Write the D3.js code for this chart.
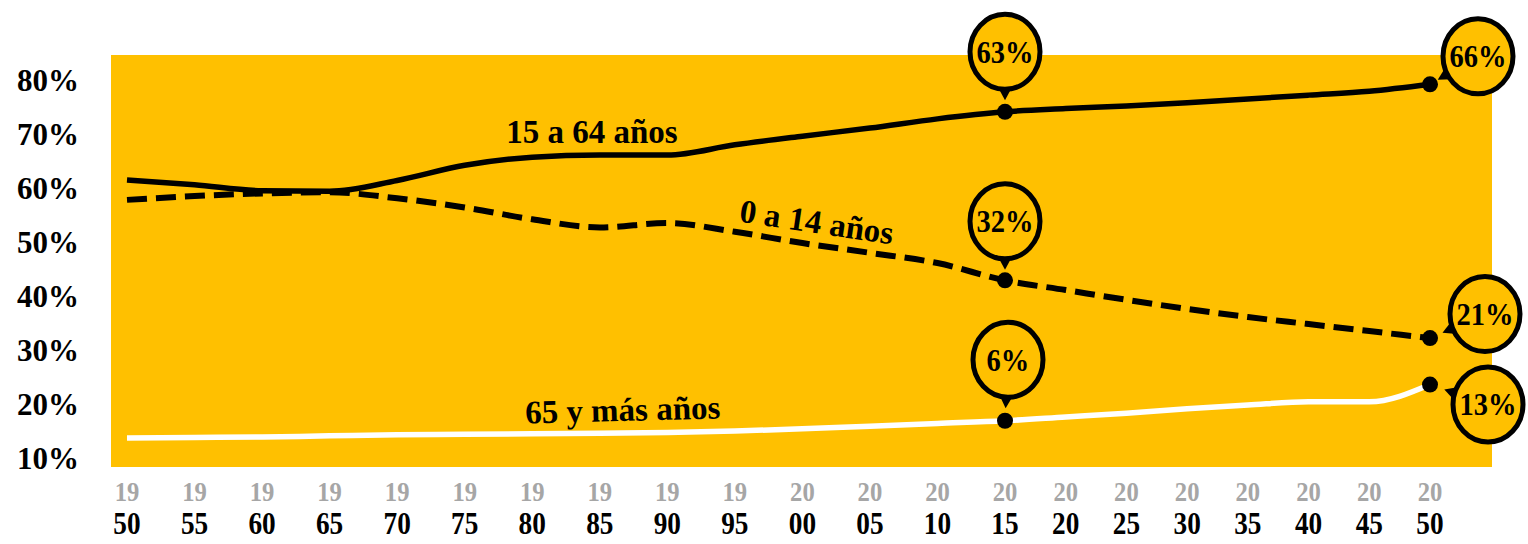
<!DOCTYPE html>
<html>
<head>
<meta charset="utf-8">
<script src="https://cdn.jsdelivr.net/npm/d3@7"></script>
<style>
  body { margin: 0; background: #fff; }
  svg { display: block; }
  text { font-family: 'Liberation Serif', 'DejaVu Serif', serif; font-weight: 700; }
</style>
</head>
<body>
<script>
const years = [1950, 1955, 1960, 1965, 1970, 1975, 1980, 1985, 1990, 1995, 2000,
  2005, 2010, 2015, 2020, 2025, 2030, 2035, 2040, 2045, 2050];
const age15to64 = [61.5, 60.6, 59.5, 59.4, 61.4, 64.2, 65.7, 66.1, 66.1, 68.0, 69.6,
  71.1, 72.8, 74.1, 74.7, 75.2, 75.8, 76.5, 77.2, 77.9, 79.2];
const age0to14 = [57.8, 58.5, 59.0, 59.2, 58.1, 56.4, 54.2, 52.7, 53.5, 51.9, 49.8,
  48.0, 46.1, 42.9, 41.1, 39.3, 37.6, 36.1, 34.8, 33.5, 32.2];
const age65plus = [13.7, 13.8, 13.9, 14.1, 14.3, 14.4, 14.5, 14.6, 14.7, 15.0, 15.4,
  15.9, 16.4, 16.9, 17.6, 18.3, 19.1, 19.8, 20.4, 20.4, 23.6];
const yTicks = [10, 20, 30, 40, 50, 60, 70, 80];
const seriesNames = ['15 a 64 años', '0 a 14 años', '65 y más años'];
const labels2015 = ['63%', '32%', '6%'];
const labels2050 = ['66%', '21%', '13%'];

const width = 1528;
const height = 544;
const yellow = '#FFC000';

const svg = d3.select('body').append('svg')
  .attr('width', width)
  .attr('height', height)

const x = d3.scaleLinear()
  .domain([1950, 2015, 2050])
  .range([127, 1005, 1430])

const y = d3.scaleLinear()
  .domain([10, 80])
  .range([458, 80])

// plot background
svg.append('rect')
  .attr('x', 111)
  .attr('y', 55)
  .attr('width', 1492 - 111)
  .attr('height', 467 - 55)
  .attr('fill', yellow)

// y labels
svg.append('g')
  .selectAll('text')
  .data(yTicks)
  .enter()
  .append('text')
  .attr('x', 48)
  .attr('y', d => y(d))
  .attr('dy', '0.35em')
  .attr('text-anchor', 'middle')
  .style('font-size', '31px')
  .text(d => d + '%')

// x labels, century on top in grey, two digits below
const xl = svg.append('g')
  .selectAll('g')
  .data(years)
  .enter()
  .append('g')
  .attr('transform', d => `translate(${x(d)},0) scale(0.88,1)`)

xl.append('text')
  .attr('y', 501)
  .attr('text-anchor', 'middle')
  .style('font-size', '28px')
  .style('fill', '#A6A6A6')
  .text(d => String(d).slice(0, 2))

xl.append('text')
  .attr('y', 534)
  .attr('text-anchor', 'middle')
  .style('font-size', '31px')
  .style('fill', '#000')
  .text(d => String(d).slice(2))

// lines
const line = d3.line()
  .x((d, i) => x(years[i]))
  .y(d => y(d))
  .curve(d3.curveMonotoneX)

const series = [
  { values: age65plus, color: '#fff', dash: null },
  { values: age0to14, color: '#000', dash: '20 9' },
  { values: age15to64, color: '#000', dash: null }
]

svg.append('g')
  .selectAll('path')
  .data(series)
  .enter()
  .append('path')
  .attr('d', d => line(d.values))
  .attr('fill', 'none')
  .attr('stroke', d => d.color)
  .attr('stroke-width', d => d.dash ? 6 : 5.5)
  .attr('stroke-dasharray', d => d.dash)

// series names
svg.append('text')
  .attr('x', 592)
  .attr('y', 143)
  .attr('text-anchor', 'middle')
  .style('font-size', '33px')
  .text(seriesNames[0])

svg.append('text')
  .attr('transform', 'translate(815,233) rotate(8.5)')
  .attr('text-anchor', 'middle')
  .style('font-size', '33px')
  .text(seriesNames[1])

svg.append('text')
  .attr('transform', 'translate(623,421) rotate(-1.5)')
  .attr('text-anchor', 'middle')
  .style('font-size', '33px')
  .text(seriesNames[2])

// callouts
const idx2015 = years.indexOf(2015);
const idx2050 = years.indexOf(2050);
const callouts = [
  { year: 2015, value: age15to64[idx2015], label: labels2015[0], dx: 0, dy: -60 },
  { year: 2015, value: age0to14[idx2015], label: labels2015[1], dx: 0, dy: -59 },
  { year: 2015, value: age65plus[idx2015], label: labels2015[2], dx: 3, dy: -61 },
  { year: 2050, value: age15to64[idx2050], label: labels2050[0], dx: 48, dy: -28 },
  { year: 2050, value: age0to14[idx2050], label: labels2050[1], dx: 55, dy: -24 },
  { year: 2050, value: age65plus[idx2050], label: labels2050[2], dx: 58, dy: 20 }
]
const rx = 35, ry = 37.5;

const c = svg.append('g')
  .selectAll('g')
  .data(callouts)
  .enter()
  .append('g')

c.each(function (d) {
  const g = d3.select(this);
  const px = x(d.year), py = y(d.value);
  const cx = px + d.dx, cy = py + d.dy;
  const vx = px - cx, vy = py - cy;
  const len = Math.hypot(vx, vy);
  const ux = vx / len, uy = vy / len;
  const t = 1 / Math.sqrt((ux / rx) ** 2 + (uy / ry) ** 2);
  const b = t - 2, tip = t + 11, hw = 7;

  g.append('circle')
    .attr('cx', px)
    .attr('cy', py)
    .attr('r', 8)
    .attr('fill', '#000')

  g.append('path')
    .attr('d', `M${cx + ux * b - uy * hw},${cy + uy * b + ux * hw}` +
      `L${cx + ux * tip},${cy + uy * tip}` +
      `L${cx + ux * b + uy * hw},${cy + uy * b - ux * hw}Z`)
    .attr('fill', '#000')

  g.append('ellipse')
    .attr('cx', cx)
    .attr('cy', cy)
    .attr('rx', rx)
    .attr('ry', ry)
    .attr('fill', yellow)
    .attr('stroke', '#000')
    .attr('stroke-width', 5)

  g.append('text')
    .attr('x', cx)
    .attr('y', cy)
    .attr('dy', '0.35em')
    .attr('text-anchor', 'middle')
    .attr('transform', `translate(${cx},0) scale(0.92,1) translate(${-cx},0)`)
    .style('font-size', '31px')
    .text(d.label)
})
</script>
</body>
</html>
